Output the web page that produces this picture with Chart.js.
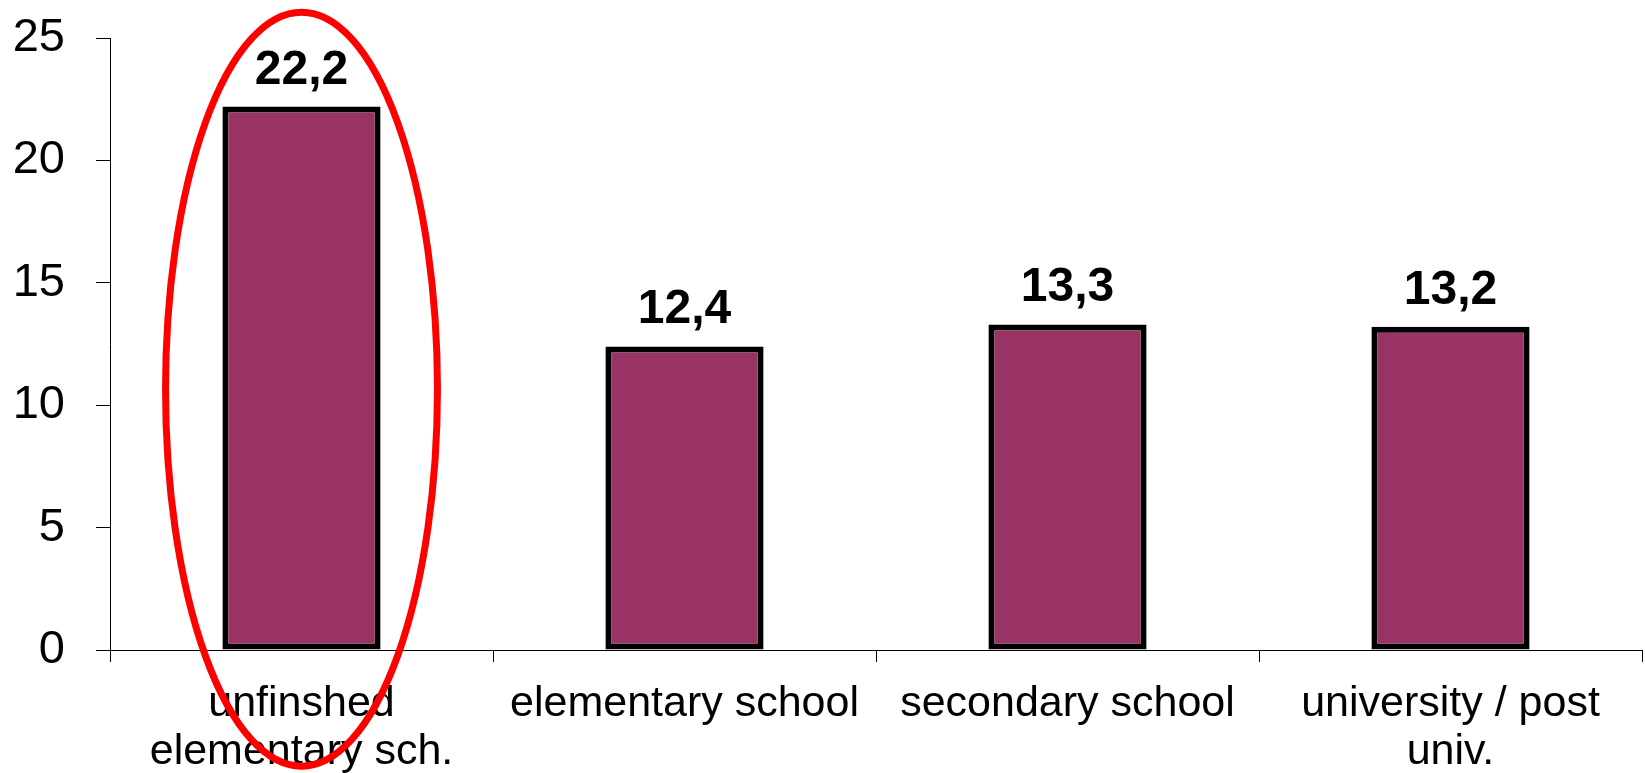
<!DOCTYPE html>
<html>
<head>
<meta charset="utf-8">
<script src="https://cdn.jsdelivr.net/npm/chart.js@4.4.1/dist/chart.umd.min.js"></script>
<style>
  body { margin: 0; background: #fff; }
  #wrap { width: 1645px; height: 773px; }
</style>
</head>
<body>
<div id="wrap"><canvas id="eduChart" width="1645" height="773"></canvas></div>
<script>
const categories = [
    ['unfinshed', 'elementary sch.'],
    'elementary school',
    'secondary school',
    ['university / post', 'univ.']
];
const values = [22.2, 12.4, 13.3, 13.2];
const valueLabels = ['22,2', '12,4', '13,3', '13,2'];
const yTicks = [0, 5, 10, 15, 20, 25];

const highlightIndex = 0;
const fontFamily = '"Liberation Sans", Arial, Helvetica, sans-serif';

// bold value labels above each bar
const valueLabelPlugin = {
    id: 'valueLabels',
    afterDatasetsDraw(chart) {
        const ctx = chart.ctx;
        const meta = chart.getDatasetMeta(0);
        ctx.save();
        ctx.fillStyle = '#000';
        ctx.font = 'bold 48px ' + fontFamily;
        ctx.textAlign = 'center';
        ctx.textBaseline = 'alphabetic';
        meta.data.forEach((bar, i) => {
            ctx.fillText(valueLabels[i], bar.x, bar.y - 23);
        });
        ctx.restore();
    }
};

// red ellipse round the highlighted bar
const highlightPlugin = {
    id: 'highlight',
    afterDraw(chart) {
        const bar = chart.getDatasetMeta(0).data[highlightIndex];
        const y = chart.scales.y;
        const x = chart.scales.x;
        const catW = x.getPixelForValue(1) - x.getPixelForValue(0);
        const cy = y.getPixelForValue(values[highlightIndex] * 0.48);
        const ry = y.getPixelForValue(0) - y.getPixelForValue(15.4);
        const rx = catW * 0.355;
        const ctx = chart.ctx;
        ctx.save();
        ctx.strokeStyle = '#ff0000';
        ctx.lineWidth = 7;
        ctx.beginPath();
        ctx.ellipse(bar.x, cy, rx, ry, 0, 0, Math.PI * 2);
        ctx.stroke();
        ctx.restore();
    }
};

new Chart(document.getElementById('eduChart'), {
    type: 'bar',
    data: {
        labels: categories,
        datasets: [{
            data: values,
            backgroundColor: '#993366',
            borderColor: '#000',
            borderWidth: 6,
            borderSkipped: false,
            barPercentage: 0.413,
            categoryPercentage: 1
        }]
    },
    options: {
        responsive: false,
        animation: false,
        layout: { padding: { left: 14, top: 38, right: 3, bottom: 0 } },
        plugins: {
            legend: { display: false },
            tooltip: { enabled: false }
        },
        scales: {
            x: {
                afterFit(axis) {
                    axis.height = 123;
                    axis.paddingLeft = 0;
                    axis.paddingRight = 0;
                },
                grid: { offset: true, drawOnChartArea: false, tickLength: 12, color: '#000' },
                border: { color: '#000', width: 1 },
                ticks: {
                    color: '#000',
                    font: { family: fontFamily, size: 43, lineHeight: 1.12 },
                    padding: 18,
                    maxRotation: 0,
                    autoSkip: false
                }
            },
            y: {
                min: 0,
                max: 25,
                afterBuildTicks(axis) { axis.ticks = yTicks.map(v => ({ value: v })); },
                afterFit(axis) {
                    axis.width = 96;
                    axis.paddingTop = 0;
                    axis.paddingBottom = 0;
                },
                grid: { drawOnChartArea: false, tickLength: 14, color: '#000' },
                border: { color: '#000', width: 1 },
                ticks: {
                    color: '#000',
                    font: { family: fontFamily, size: 47 },
                    padding: 31
                }
            }
        }
    },
    plugins: [valueLabelPlugin, highlightPlugin]
});
</script>
</body>
</html>
